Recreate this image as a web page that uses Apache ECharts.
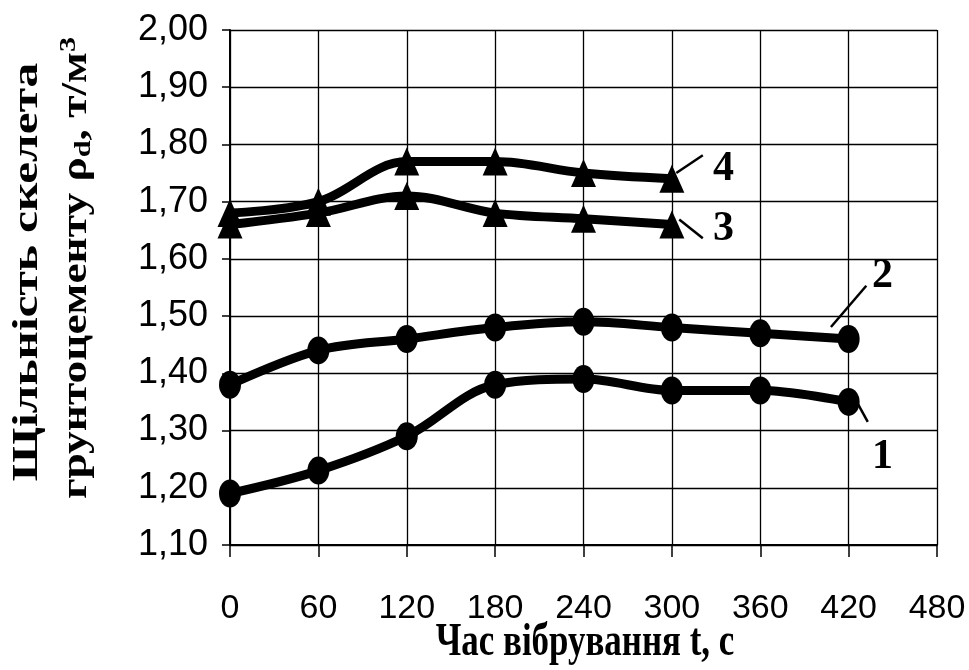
<!DOCTYPE html>
<html><head><meta charset="utf-8">
<script src="https://cdn.jsdelivr.net/npm/echarts@6/dist/echarts.min.js"></script>
<style>html,body{margin:0;padding:0;background:#fff}#c{width:969px;height:670px}</style>
</head><body><div id="c"></div>
<script>
const times = [0, 60, 120, 180, 240, 300, 360, 420];
const series1 = [1.19, 1.23, 1.29, 1.38, 1.39, 1.37, 1.37, 1.35];
const series2 = [1.38, 1.44, 1.46, 1.48, 1.49, 1.48, 1.47, 1.46];
const series3 = [1.66, 1.68, 1.71, 1.68, 1.67, 1.66];
const series4 = [1.68, 1.70, 1.77, 1.77, 1.75, 1.74];
const seriesNames = ['1', '2', '3', '4'];
const xTitle = 'Час вібрування t, с';
const yTitle1 = 'Щільність скелета';
const yTitle2 = ['грунтоцементу ρ', 'd', ', т/м', '3'];
// leader line end points & label positions (data units) for the curve numbers
const leaders = [
  {start:[426,1.348], end:[433,1.315], label:[443,1.254]},
  {start:[408,1.481], end:[432,1.553], label:[443,1.570]},
  {start:[305,1.669], end:[321,1.636], label:[335,1.652]},
  {start:[303,1.750], end:[321,1.781], label:[335,1.756]}
];
const xTicks = {min:0, max:480, interval:60};
const yTicks = {min:1.1, max:2.0, interval:0.1};

const chart = echarts.init(document.getElementById('c'), null, {renderer:'canvas'});
const all = [series1, series2, series3, series4];
const markers = ['circle','circle','triangle','triangle'];
const msize = [[22,28],[22,28],[25,28],[25,28]];
const seriesList = all.map((vals, i) => ({
  name: seriesNames[i],
  type: 'line',
  data: vals.map((v, j) => [times[j], v]),
  smooth: 0.35,
  symbol: markers[i],
  symbolSize: msize[i],
  itemStyle: {color:'#000'},
  lineStyle: {color:'#000', width:9},
  z: 3,
  markLine: {
    silent: true, symbol: ['none','none'],
    lineStyle: {color:'#000', width:2.5, type:'solid'},
    label: {show:false},
    data: [[{coord: leaders[i].start}, {coord: leaders[i].end}]]
  },
  markPoint: {
    silent: true, symbol: 'circle', symbolSize: 0,
    label: {show:true, formatter: seriesNames[i], color:'#000',
      fontFamily:'Liberation Serif', fontWeight:'bold', fontSize:42},
    data: [{coord: leaders[i].label}]
  }
}));

const serif = 'bold 36px "Liberation Serif"';
chart.setOption({
  animation: false,
  backgroundColor: '#fff',
  grid: {left:230, right:32, top:30, bottom:125, containLabel:false, outerBoundsMode:'none'},
  xAxis: {
    type:'value', min:xTicks.min, max:xTicks.max, interval:xTicks.interval,
    axisLine:{show:true, lineStyle:{color:'#000', width:2}},
    axisTick:{show:true, length:12, lineStyle:{color:'#000', width:1.5}},
    splitLine:{show:true, lineStyle:{color:'#000', width:1.3}},
    axisLabel:{margin:47, color:'#000', fontSize:34, fontFamily:'Liberation Sans'}
  },
  yAxis: {
    type:'value', min:yTicks.min, max:yTicks.max, interval:yTicks.interval,
    axisLine:{show:true, lineStyle:{color:'#000', width:2}},
    axisTick:{show:true, length:8, lineStyle:{color:'#000', width:1.5}},
    splitLine:{show:true, lineStyle:{color:'#000', width:1.3}},
    axisLabel:{margin:22, color:'#000', fontSize:36, fontFamily:'Liberation Sans',
      formatter: v => v.toFixed(2).replace('.', ',')}
  },
  graphic: [
    {type:'text', x:585, y:643, scaleX:0.97, scaleY:1.3,
     style:{text:xTitle, font:'bold 36px "Liberation Serif"', fill:'#000', align:'center', verticalAlign:'middle'}},
    {type:'text', x:28, y:272, rotation:Math.PI/2, scaleX:1.37, scaleY:1,
     style:{text:yTitle1, font:serif, fill:'#000', align:'center', verticalAlign:'middle'}},
    {type:'text', x:77, y:268, rotation:Math.PI/2, scaleX:1.26, scaleY:1,
     style:{text:'{b|'+yTitle2[0]+'}{s|'+yTitle2[1]+'}{b|'+yTitle2[2]+'}{p|'+yTitle2[3]+'}',
       fill:'#000', align:'center', verticalAlign:'middle',
       rich:{
         b:{font:serif, fill:'#000'},
         s:{font:'bold 24px "Liberation Serif"', fill:'#000', padding:[14,0,0,0]},
         p:{font:'bold 24px "Liberation Serif"', fill:'#000', padding:[0,0,16,0]}
       }}}
  ],
  series: seriesList
});
</script></body></html>
